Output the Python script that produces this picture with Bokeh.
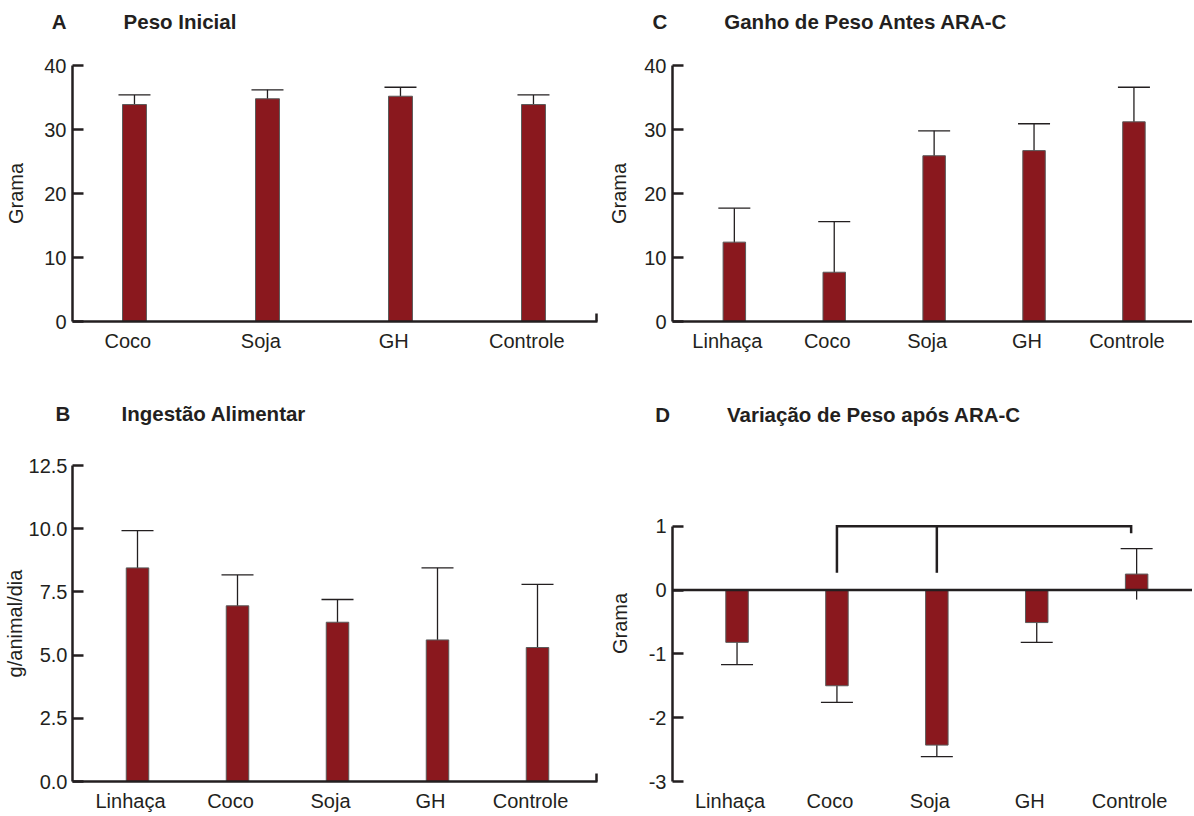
import numpy as np
from bokeh.plotting import figure
from bokeh.models import (ColumnDataSource, Whisker, TeeHead, FixedTicker,
                          Range1d, Span, Title)
from bokeh.layouts import column, row
from bokeh.embed import file_html
from bokeh.resources import INLINE

# ---------------- data ----------------
groups_A = ["Coco", "Soja", "GH", "Controle"]
mean_A = [33.9, 34.8, 35.2, 33.9]
err_A = [1.5, 1.4, 1.4, 1.5]

groups_B = ["Linhaça", "Coco", "Soja", "GH", "Controle"]
mean_B = [8.45, 6.95, 6.3, 5.6, 5.3]
err_B = [1.47, 1.22, 0.9, 2.85, 2.5]

groups_C = ["Linhaça", "Coco", "Soja", "GH", "Controle"]
mean_C = [12.4, 7.7, 25.9, 26.7, 31.2]
err_C = [5.3, 7.9, 3.9, 4.2, 5.4]

groups_D = ["Linhaça", "Coco", "Soja", "GH", "Controle"]
mean_D = [-0.82, -1.5, -2.43, -0.51, 0.25]
err_D = [0.35, 0.26, 0.18, 0.31, 0.4]

yticks_A = [0, 10, 20, 30, 40]
ylabels_A = ["0", "10", "20", "30", "40"]
yticks_B = [0, 2.5, 5, 7.5, 10, 12.5]
ylabels_B = ["0.0", "2.5", "5.0", "7.5", "10.0", "12.5"]
yticks_C = [0, 10, 20, 30, 40]
ylabels_C = ["0", "10", "20", "30", "40"]
yticks_D = [-3, -2, -1, 0, 1]
ylabels_D = ["-3", "-2", "-1", "0", "1"]

# significance bracket (panel D): Coco and Soja vs Controle
bracket_groups = ["Coco", "Soja", "Controle"]
bracket_level = 1.0
bracket_tip = 0.27
bracket_end_tip = 0.89

# ---------------- style ----------------
INK = "#231f20"
BAR = "#8A181E"
BAR_LINE = "#5a5a5a"
FONT = "Liberation Sans"
TICK_SIZE = "20px"
TITLE_SIZE = 20.5
NBSP = "\u00a0"


def build(letter, title, groups, means, errs, yticks, ylabels, ylabel, g):
    n = len(groups)
    idx = np.arange(n, dtype=float)
    means = np.asarray(means, dtype=float)
    errs = np.asarray(errs, dtype=float)
    x1 = g["x0"] + g["fw"] / g["ppu"]
    p = figure(frame_width=g["fw"], frame_height=g["fh"],
               min_border_left=g["bl"], min_border_right=g["br"],
               min_border_top=g["bt"], min_border_bottom=g["bb"],
               x_range=Range1d(g["x0"], x1),
               y_range=Range1d(g["y0"], g["y1"]),
               output_backend="svg", toolbar_location=None, tools="")
    p.outline_line_color = None
    p.grid.visible = False
    p.background_fill_color = "white"
    p.border_fill_color = "white"

    # error bars (behind the bars), cap on the outer side
    lower = means - errs
    upper = means + errs
    pos = means >= 0
    if pos.any():
        src = ColumnDataSource(dict(base=idx[pos], lower=lower[pos], upper=upper[pos]))
        p.add_layout(Whisker(source=src, base="base", lower="lower", upper="upper",
                             dimension="height", line_color=INK, line_width=1.3,
                             lower_head=None,
                             upper_head=TeeHead(size=32, line_color=INK, line_width=1.3)))
    if (~pos).any():
        src = ColumnDataSource(dict(base=idx[~pos], lower=lower[~pos], upper=upper[~pos]))
        p.add_layout(Whisker(source=src, base="base", lower="lower", upper="upper",
                             dimension="height", line_color=INK, line_width=1.3,
                             upper_head=None,
                             lower_head=TeeHead(size=32, line_color=INK, line_width=1.3)))

    p.vbar(x=idx, top=means, bottom=0, width=g["bw"], fill_color=BAR,
           line_color=BAR_LINE, line_width=1)

    # y axis
    ya = p.yaxis[0]
    ya.ticker = FixedTicker(ticks=yticks, minor_ticks=[])
    ya.major_label_overrides = {t: l for t, l in zip(yticks, ylabels)}
    ya.bounds = (yticks[0], yticks[-1])
    ya.axis_line_color = INK
    ya.axis_line_width = 2.5
    ya.major_tick_line_color = INK
    ya.major_tick_line_width = 2.5
    ya.major_tick_in = 11
    ya.major_tick_out = 0
    ya.minor_tick_line_color = None
    ya.major_label_standoff = g["yls"]
    ya.major_label_text_font = FONT
    ya.major_label_text_font_size = TICK_SIZE
    ya.major_label_text_color = INK
    ya.axis_label = ylabel
    ya.axis_label_text_font = FONT
    ya.axis_label_text_font_size = TICK_SIZE
    ya.axis_label_text_font_style = "normal"
    ya.axis_label_text_color = INK
    ya.axis_label_standoff = g["als"]

    # x axis
    xa = p.xaxis[0]
    label_pos = [float(i) - g["shift"] for i in idx]
    minor = [x1 - 0.01] if g["endtick"] else []
    xa.ticker = FixedTicker(ticks=label_pos, minor_ticks=minor)
    xa.major_label_overrides = {t: l for t, l in zip(label_pos, groups)}
    xa.major_tick_line_color = None
    xa.major_tick_in = 0
    xa.major_tick_out = 0
    xa.minor_tick_line_color = INK if g["endtick"] else None
    xa.minor_tick_line_width = 2.5
    xa.minor_tick_in = 8
    xa.minor_tick_out = 0
    xa.major_label_standoff = g["xls"]
    xa.major_label_text_font = FONT
    xa.major_label_text_font_size = TICK_SIZE
    xa.major_label_text_color = INK
    if g["zero"]:
        xa.axis_line_color = None
        p.add_layout(Span(location=0, dimension="width", line_color=INK, line_width=2.5))
    else:
        xa.axis_line_color = INK
        xa.axis_line_width = 2.5

    # spacer between the frame and the title (nearest the frame)
    p.add_layout(Title(text=NBSP, text_font_size="1px", standoff=g["gap"] - 1.1,
                       text_color="white"), "above")
    # panel letter + title on one line
    gap = g["title_x"] - g["letter_x"] - 0.722 * TITLE_SIZE
    nsp = max(1, int(round(gap / (0.278 * TITLE_SIZE))))
    p.add_layout(Title(text=letter + NBSP * nsp + title, align="left",
                       offset=g["letter_x"] - g["frame_left"],
                       standoff=2, text_font=FONT,
                       text_font_size=f"{TITLE_SIZE}px", text_font_style="bold",
                       text_color=INK), "above")
    return p, idx


def geom(**kw):
    return kw


# page origin of the layout is (1, 1)
# top row frames: page y 66..322 ; bottom row frames: page y 466..782
gA = geom(bl=72, fw=525, br=1, bt=65, fh=256, bb=76, x0=-0.466, ppu=133.0,
          y0=0, y1=40, bw=0.18, shift=0.05, endtick=True, zero=False,
          frame_left=73, letter_x=52.3, title_x=123.5, gap=30.2,
          yls=6, als=14, xls=8)
gC = geom(bl=74, fw=520, br=0, bt=65, fh=256, bb=76, x0=-0.619, ppu=99.9,
          y0=0, y1=40, bw=0.225, shift=0.07, endtick=False, zero=False,
          frame_left=673, letter_x=653, title_x=724, gap=30.2,
          yls=6, als=11, xls=8)
gB = geom(bl=72, fw=525, br=1, bt=68, fh=316, bb=32, x0=-0.65, ppu=100.0,
          y0=0, y1=12.5, bw=0.225, shift=0.07, endtick=True, zero=False,
          frame_left=73, letter_x=56, title_x=124.4, gap=38.0,
          yls=5, als=0, xls=8)
gD = geom(bl=74, fw=520, br=0, bt=68, fh=316, bb=32, x0=-0.646, ppu=99.9,
          y0=-3, y1=1.951, bw=0.225, shift=0.07, endtick=False, zero=True,
          frame_left=673, letter_x=655.7, title_x=726, gap=37.4,
          yls=6, als=15, xls=8)

pA, _ = build("A", "Peso Inicial", groups_A, mean_A, err_A, yticks_A, ylabels_A, "Grama", gA)
pC, _ = build("C", "Ganho de Peso Antes ARA-C", groups_C, mean_C, err_C, yticks_C, ylabels_C, "Grama", gC)
pB, _ = build("B", "Ingestão Alimentar", groups_B, mean_B, err_B, yticks_B, ylabels_B, "g/animal/dia", gB)
pD, idxD = build("D", "Variação de Peso após ARA-C", groups_D, mean_D, err_D, yticks_D, ylabels_D, "Grama", gD)

# significance bracket in D
xb = [float(idxD[groups_D.index(gname)]) for gname in bracket_groups]
inset = 0.055
x_left, x_mid, x_right = xb[0], xb[1], xb[2] - inset
pD.line(x=[x_left, x_left, x_right, x_right],
        y=[bracket_tip, bracket_level, bracket_level, bracket_end_tip],
        line_color=INK, line_width=2.5, line_join="miter")
pD.line(x=[x_mid, x_mid], y=[bracket_level, bracket_tip], line_color=INK, line_width=2.5)

layout = column(row(pA, pC), row(pB, pD))
open("out.html", "w").write(file_html(layout, INLINE))
